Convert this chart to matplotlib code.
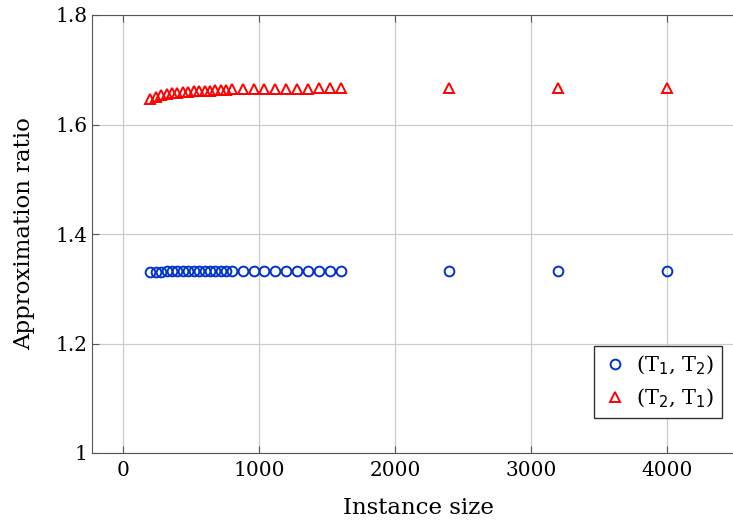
import matplotlib.pyplot as plt

# instance sizes
sizes = [200, 240, 280, 320, 360, 400, 440, 480, 520, 560, 600, 640, 680, 720, 760, 800,
         880, 960, 1040, 1120, 1200, 1280, 1360, 1440, 1520, 1600,
         2400, 3200, 4000]

# (T1, T2) approximation ratio
ratio_t1_t2 = [1.330, 1.331, 1.331, 1.332, 1.332, 1.332, 1.332, 1.333, 1.333, 1.333,
               1.333, 1.333, 1.333, 1.333, 1.333, 1.333,
               1.333, 1.333, 1.333, 1.333, 1.333, 1.333, 1.333, 1.333, 1.333, 1.333,
               1.333, 1.333, 1.333]

# (T2, T1) approximation ratio
ratio_t2_t1 = [1.647, 1.651, 1.654, 1.656, 1.657, 1.658, 1.659, 1.660, 1.661, 1.661,
               1.662, 1.662, 1.663, 1.663, 1.663, 1.664,
               1.664, 1.664, 1.665, 1.665, 1.665, 1.665, 1.665, 1.666, 1.666, 1.666,
               1.666, 1.667, 1.667]

plt.rcParams['font.family'] = ['DejaVu Serif']

fig = plt.figure(figsize=(7.33, 5.29), dpi=100)
ax = fig.add_axes([92 / 733, (529 - 453) / 529, (745 - 92) / 733, (453 - 15) / 529])

ax.plot(sizes, ratio_t1_t2, 'o', linestyle='none', markerfacecolor='none',
        markeredgecolor='#0033cc', markeredgewidth=1.4, markersize=7,
        label='(T$_1$, T$_2$)')
ax.plot(sizes, ratio_t2_t1, '^', linestyle='none', markerfacecolor='none',
        markeredgecolor='#ff0000', markeredgewidth=1.4, markersize=7,
        label='(T$_2$, T$_1$)')

ax.set_xlim(-228, (745 - 123) / 0.136)
ax.set_ylim(1.0, 1.8)
ax.set_xticks([0, 1000, 2000, 3000, 4000])
ax.set_yticks([1.0, 1.2, 1.4, 1.6, 1.8])
ax.set_yticklabels(['1', '1.2', '1.4', '1.6', '1.8'])
ax.grid(True, color='#cccccc', linewidth=0.9)
ax.set_axisbelow(True)
ax.tick_params(direction='in', top=True, right=True, labelsize=14.5, length=5,
               color='#555555')
ax.tick_params(axis='x', pad=6)
for s in ax.spines.values():
    s.set_color('#555555')

ax.set_xlabel('Instance size', fontsize=16.5, labelpad=12)
ax.set_ylabel('Approximation ratio', fontsize=16.5, labelpad=14)

leg = ax.legend(loc='lower right', bbox_to_anchor=((722 - 92) / 653, (453 - 418) / 438),
                borderaxespad=0, fontsize=15, fancybox=False, framealpha=1,
                edgecolor='#333333', handletextpad=0.4, handlelength=1.2,
                borderpad=0.4, labelspacing=0.45)
leg.get_frame().set_linewidth(1.0)

fig.savefig('out.png', dpi=100)
